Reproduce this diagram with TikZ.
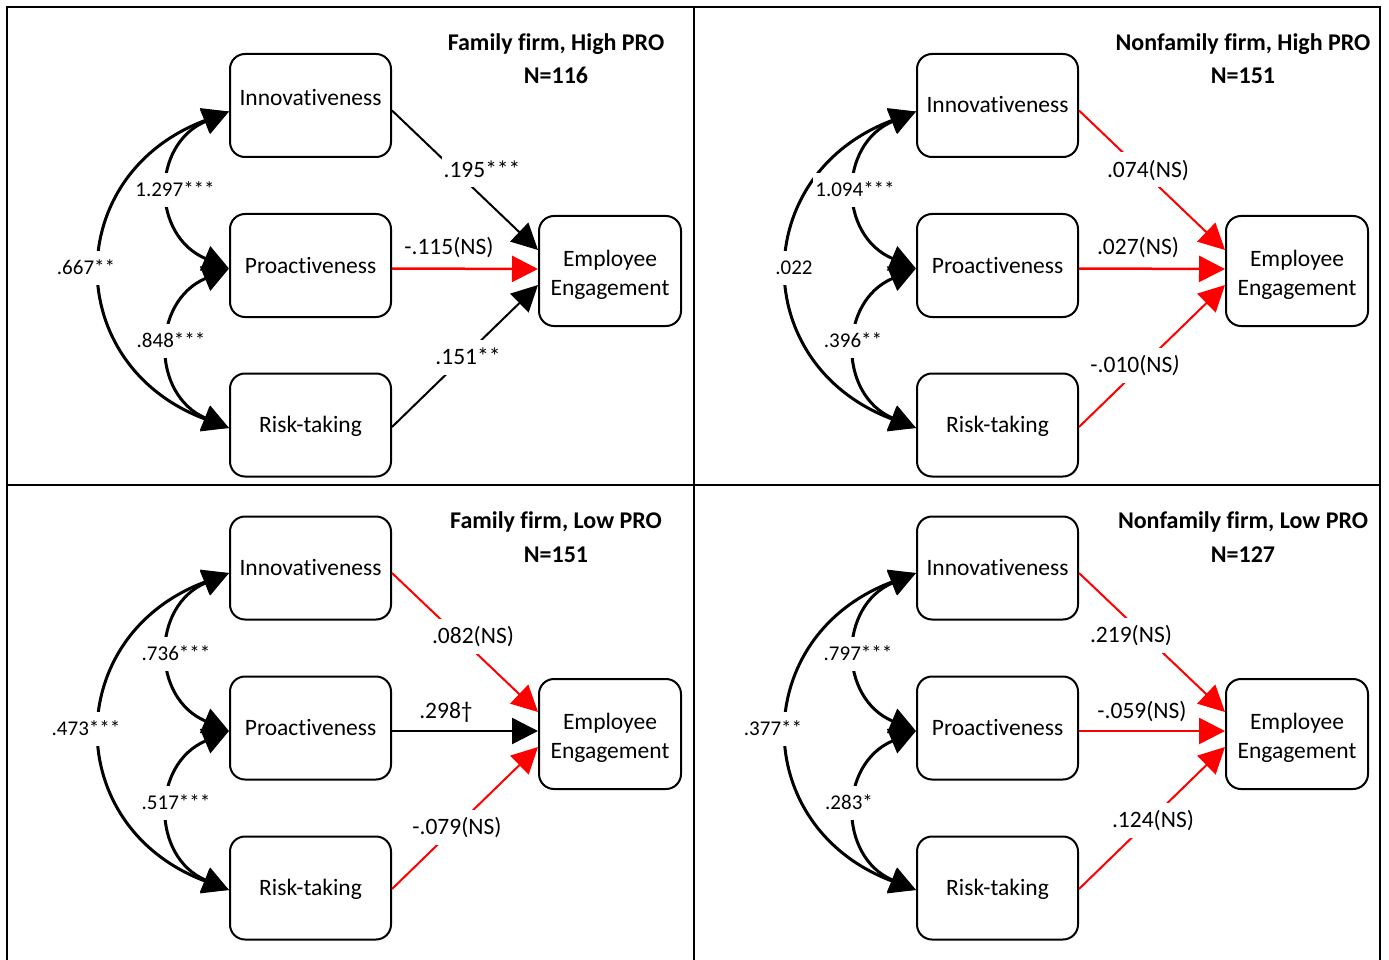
\documentclass[tikz,border=0pt]{standalone}
\usepackage{fontspec}
\setmainfont{Carlito}[Ligatures={NoCommon}]
\usetikzlibrary{arrows.meta}
\begin{document}
\begin{tikzpicture}[x=1pt,y=-1pt,
  box/.style={draw,line width=2pt,rounded corners=15pt,minimum width=161pt,
    minimum height=103pt,inner sep=0pt,font=\fontsize{23.5}{28}\selectfont,
    text height=15pt,text depth=0pt},
  eebox/.style={draw,line width=2pt,rounded corners=15pt,minimum width=142pt,
    minimum height=110pt,inner sep=0pt,align=center,
    font=\fontsize{23.5}{29}\selectfont},
  title/.style={anchor=base,font=\bfseries\fontsize{24}{28}\selectfont},
  corr/.style={line width=3pt,
    {Triangle[length=26pt,width=26pt]}-{Triangle[length=26pt,width=26pt]}},
  pathk/.style={line width=2pt,-{Triangle[length=26pt,width=26pt]}},
  pathr/.style={pathk,red},
  cl/.style={fill=white,inner xsep=2pt,inner ysep=10pt,text height=13.5pt,
    text depth=0pt,font=\fontsize{21}{24}\selectfont},
  pl/.style={cl,text height=15pt,font=\fontsize{23.5}{28}\selectfont},
]
\useasboundingbox (0,0) rectangle (1389,960);

% frame dividing the four groups
\draw[line width=2pt] (7,962) -- (7,7) -- (1380,7) -- (1380,962);
\draw[line width=2pt] (694,7) -- (694,962);
\draw[line width=2pt] (7,485) -- (1380,485);

% ---------------- Family firm, High PRO ----------------
\node[title] (t1) at (556,51) {Family firm, High PRO};
\node[title] (n1) at (556,84) {N=116};
\node[box,text depth=15pt] (i1) at (310.5,105.5) {Innovativeness};
\node[box] (p1) at (310.5,265.5) {Proactiveness};
\node[box] (r1) at (310.5,425) {Risk-taking};
\node[eebox] (e1) at (610,271) {\rule{0pt}{25pt}Employee\\Engagement};

\draw[corr] ([yshift=-6pt]i1.west) .. controls +(-168,63) and +(-168,-63) .. ([yshift=-3pt]r1.west);
\draw[corr] ([yshift=-6pt]i1.west) .. controls +(-78,33) and +(-78,-33) .. ([yshift=-3pt]p1.west);
\draw[corr] ([yshift=-3pt]p1.west) .. controls +(-78,33) and +(-78,-33) .. ([yshift=-3pt]r1.west);

\draw[pathk] ([yshift=-5pt]i1.east) -- ([yshift=21pt]e1.west);
\draw[pathr,line width=2.5pt] ([yshift=-3pt]p1.east) -- ([yshift=2pt]e1.west);
\draw[pathk] ([yshift=-2pt]r1.east) -- ([yshift=-14pt]e1.west);

\node[cl] (c1a) at (175,190) {1.297***};
\node[cl] (c1b) at (86,268) {.667**};
\node[cl] (c1c) at (171,341) {.848***};
\node[pl] (b1a) at (482,170) {.195***};
\node[pl] (b1b) at (449,247) {-.115(NS)};
\node[pl] (b1c) at (468,357) {.151**};

% ---------------- Nonfamily firm, High PRO ----------------
\node[title] (t2) at (1243,51) {Nonfamily firm, High PRO};
\node[title] (n2) at (1243,84) {N=151};
\node[box] (i2) at (997.5,105.5) {Innovativeness};
\node[box] (p2) at (997.5,265.5) {Proactiveness};
\node[box] (r2) at (997.5,425) {Risk-taking};
\node[eebox] (e2) at (1297,271) {\rule{0pt}{25pt}Employee\\Engagement};

\draw[corr] ([yshift=-6pt]i2.west) .. controls +(-168,63) and +(-168,-63) .. ([yshift=-3pt]r2.west);
\draw[corr] ([yshift=-6pt]i2.west) .. controls +(-78,33) and +(-78,-33) .. ([yshift=-3pt]p2.west);
\draw[corr] ([yshift=-3pt]p2.west) .. controls +(-78,33) and +(-78,-33) .. ([yshift=-3pt]r2.west);

\draw[pathr] ([yshift=-5pt]i2.east) -- ([yshift=21pt]e2.west);
\draw[pathr,line width=2.5pt] ([yshift=-3pt]p2.east) -- ([yshift=2pt]e2.west);
\draw[pathr] ([yshift=-2pt]r2.east) -- ([yshift=-14pt]e2.west);

\node[cl] (c2a) at (855,190) {1.094***};
\node[cl] (c2b) at (794,268) {.022};
\node[cl] (c2c) at (853,341) {.396**};
\node[pl] (b2a) at (1148,170) {.074(NS)};
\node[pl] (b2b) at (1138,247) {.027(NS)};
\node[pl] (b2c) at (1135,365) {-.010(NS\textit{)}};

% ---------------- Family firm, Low PRO ----------------
\node[title] (t3) at (556,528) {Family firm, Low PRO};
\node[title] (n3) at (556,562) {N=151};
\node[box] (i3) at (310.5,568) {Innovativeness};
\node[box] (p3) at (310.5,728) {Proactiveness};
\node[box] (r3) at (310.5,888) {Risk-taking};
\node[eebox] (e3) at (610,734) {\rule{0pt}{25pt}Employee\\Engagement};

\draw[corr] ([yshift=-5pt]i3.west) .. controls +(-168,63) and +(-168,-63) .. ([yshift=-2pt]r3.west);
\draw[corr] ([yshift=-5pt]i3.west) .. controls +(-78,33) and +(-78,-33) .. ([yshift=-3pt]p3.west);
\draw[corr] ([yshift=-3pt]p3.west) .. controls +(-78,33) and +(-78,-33) .. ([yshift=-2pt]r3.west);

\draw[pathr] ([yshift=-5pt]i3.east) -- ([yshift=22pt]e3.west);
\draw[pathk,line width=2.5pt] ([yshift=-3pt]p3.east) -- ([yshift=3pt]e3.west);
\draw[pathr] ([yshift=-1pt]r3.east) -- ([yshift=-13pt]e3.west);

\node[cl] (c3a) at (176,654) {.736***};
\node[cl] (c3b) at (86,729) {.473***};
\node[cl] (c3c) at (176,803) {.517***};
\node[pl] (b3a) at (473,636) {.082(NS)};
\node[pl] (b3b) at (446,711) {.298\textdagger};
\node[pl] (b3c) at (457,827) {-.079(NS)};

% ---------------- Nonfamily firm, Low PRO ----------------
\node[title] (t4) at (1243,528) {Nonfamily firm, Low PRO};
\node[title] (n4) at (1243,562) {N=127};
\node[box] (i4) at (997.5,568) {Innovativeness};
\node[box] (p4) at (997.5,728) {Proactiveness};
\node[box] (r4) at (997.5,888) {Risk-taking};
\node[eebox] (e4) at (1297,734) {\rule{0pt}{25pt}Employee\\Engagement};

\draw[corr] ([yshift=-5pt]i4.west) .. controls +(-168,63) and +(-168,-63) .. ([yshift=-2pt]r4.west);
\draw[corr] ([yshift=-5pt]i4.west) .. controls +(-78,33) and +(-78,-33) .. ([yshift=-3pt]p4.west);
\draw[corr] ([yshift=-3pt]p4.west) .. controls +(-78,33) and +(-78,-33) .. ([yshift=-2pt]r4.west);

\draw[pathr] ([yshift=-5pt]i4.east) -- ([yshift=22pt]e4.west);
\draw[pathr,line width=2.5pt] ([yshift=-3pt]p4.east) -- ([yshift=3pt]e4.west);
\draw[pathr] ([yshift=-1pt]r4.east) -- ([yshift=-13pt]e4.west);

\node[cl] (c4a) at (858,654) {.797***};
\node[cl] (c4b) at (773,729) {.377**};
\node[cl] (c4c) at (849,803) {.283*};
\node[pl] (b4a) at (1131,635) {.219(NS)};
\node[pl] (b4b) at (1142,711) {-.059(NS)};
\node[pl] (b4c) at (1153,820) {.124(NS)};
\end{tikzpicture}
\end{document}
